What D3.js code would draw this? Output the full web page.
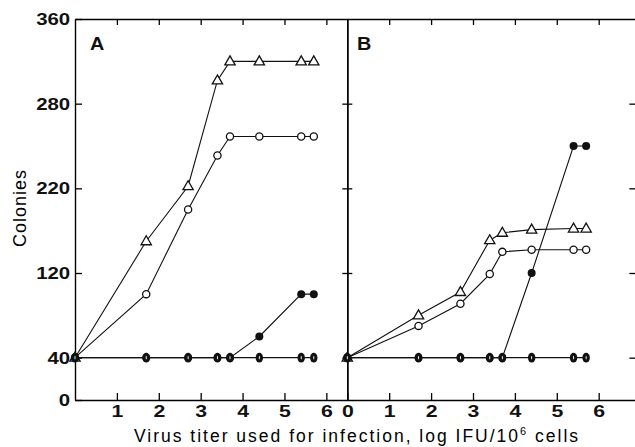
<!DOCTYPE html>
<html>
<head>
<meta charset="utf-8">
<script src="https://cdn.jsdelivr.net/npm/d3@7"></script>
<style>
  body { margin: 0; background: #fff; }
  svg { display: block; }
  .frame path.domain { stroke: #000; stroke-width: 1.4; }
  .frame line { stroke: #000; stroke-width: 1.3; }
  .frame text { font-family: "Liberation Sans", Arial, sans-serif; font-weight: bold; font-size: 17px; fill: #111; }
  .panel { font-family: "Liberation Sans", Arial, sans-serif; font-weight: bold; font-size: 18px; fill: #111; }
</style>
</head>
<body>
<svg id="chart" width="635" height="447"></svg>
<script>
// log IFU/10^6 cells used for each infection
var doses = [0, 1.7, 2.7, 3.4, 3.7, 4.4, 5.4, 5.7];

// panel A
var aTriangle = [40, 150, 202, 302, 320, 320, 320, 320];
var aOpen     = [40, 100, 180, 231, 249, 249, 249, 249];
var aFilled   = [40, 40, 40, 40, 40, 60, 100, 100];
var aBase     = [40, 40, 40, 40, 40, 40, 40, 40];

// panel B
var bTriangle = [40, 80, 102, 151, 158, 161, 162, 162];
var bOpen     = [40, 70, 91, 119, 140, 142, 142, 142];
var bFilled   = [40, 40, 40, 40, 40, 120, 240, 240];
var bBase     = [40, 40, 40, 40, 40, 40, 40, 40];

var yTickValues = [0, 40, 120, 200, 280, 360];
var yTickLabels = ["0", "40", "120", "220", "280", "360"];
var xTicksA = [1, 2, 3, 4, 5, 6];
var xTicksB = [0, 1, 2, 3, 4, 5, 6];

var svg = d3.select("#chart");

var plotTop = 19, plotBottom = 400;
var y = d3.scaleLinear().domain([0, 360]).range([plotBottom, plotTop]);
var xA = d3.scaleLinear().domain([0, 6.5]).range([75, 347.3]);
var xB = d3.scaleLinear().domain([0, 6.9]).range([347.3, 636.4]);

// the printed digits are wide, stretch them a bit
function widen(g, sx) {
    g.selectAll("text").attr("transform", "scale(" + sx + ",1)");
}

function frame(x, ticks) {
    svg.append("g").attr("class", "frame")
        .attr("transform", "translate(0," + plotBottom + ")")
        .call(d3.axisBottom(x).tickValues(ticks).tickSizeInner(-7).tickSizeOuter(0).tickPadding(5)
            .tickFormat(d3.format("d")))
        .call(widen, 1.25);
    svg.append("g").attr("class", "frame")
        .attr("transform", "translate(0," + plotTop + ")")
        .call(d3.axisTop(x).tickValues(ticks.filter(function(d) { return d > 0; }))
            .tickSizeInner(-6).tickSizeOuter(0).tickFormat(""));
}
frame(xA, xTicksA);
frame(xB, xTicksB);

// left axis of A carries the labels
svg.append("g").attr("class", "frame")
    .attr("transform", "translate(" + xA(0) + ",0)")
    .call(d3.axisLeft(y).tickValues(yTickValues).tickSizeInner(-7).tickSizeOuter(0).tickPadding(4)
        .tickFormat(function(d, i) { return yTickLabels[i]; }))
    .call(widen, 1.2);

// shared axis between A and B, ticks across
var inner = yTickValues.filter(function(d) { return d > 0 && d < 360; });
svg.append("g").attr("class", "frame")
    .attr("transform", "translate(" + xB(0) + ",0)")
    .call(d3.axisLeft(y).tickValues(inner).tickSizeInner(5).tickSizeOuter(0).tickFormat(""));
svg.append("g").attr("class", "frame")
    .attr("transform", "translate(" + xB(0) + ",0)")
    .call(d3.axisRight(y).tickValues(inner).tickSizeInner(5).tickSizeOuter(0).tickFormat(""));

// right edge of B (mostly cut off)
svg.append("g").attr("class", "frame")
    .attr("transform", "translate(" + xB.range()[1] + ",0)")
    .call(d3.axisLeft(y).tickValues(inner).tickSizeInner(7).tickSizeOuter(0).tickFormat(""));

function series(x, vals, kind) {
    var pts = doses.map(function(d, i) { return [x(d), y(vals[i])]; });
    svg.append("path")
        .attr("d", d3.line()(pts))
        .attr("fill", "none")
        .attr("stroke", "#111")
        .attr("stroke-width", 1.1);
    var g = svg.append("g");
    if (kind == "triangle") {
        g.selectAll("path").data(pts).enter().append("path")
            .attr("transform", function(p) { return "translate(" + p[0] + "," + (p[1] + 0.5) + ")"; })
            .attr("d", d3.symbol().type(d3.symbolTriangle).size(46))
            .attr("fill", "#fff").attr("stroke", "#111").attr("stroke-width", 1.3);
    } else if (kind == "open") {
        g.selectAll("circle").data(pts).enter().append("circle")
            .attr("cx", function(p) { return p[0]; }).attr("cy", function(p) { return p[1]; })
            .attr("r", 3.6)
            .attr("fill", "#fff").attr("stroke", "#111").attr("stroke-width", 1.3);
    } else if (kind == "filled") {
        g.selectAll("circle").data(pts).enter().append("circle")
            .attr("cx", function(p) { return p[0]; }).attr("cy", function(p) { return p[1]; })
            .attr("r", 4)
            .attr("fill", "#111");
    } else {
        g.selectAll("ellipse.o").data(pts).enter().append("ellipse")
            .attr("cx", function(p) { return p[0]; }).attr("cy", function(p) { return p[1]; })
            .attr("rx", 3.7).attr("ry", 4.9)
            .attr("fill", "#111");
        g.selectAll("ellipse.i").data(pts).enter().append("ellipse")
            .attr("cx", function(p) { return p[0]; }).attr("cy", function(p) { return p[1]; })
            .attr("rx", 0.5).attr("ry", 1.8)
            .attr("fill", "#fff");
    }
}

series(xA, aTriangle, "triangle");
series(xA, aOpen, "open");
series(xA, aFilled, "filled");
series(xA, aBase, "base");

series(xB, bTriangle, "triangle");
series(xB, bOpen, "open");
series(xB, bFilled, "filled");
series(xB, bBase, "base");

// panel letters
svg.append("text").attr("class", "panel")
    .attr("transform", "translate(90,50) scale(1.1,1)").text("A");
svg.append("text").attr("class", "panel")
    .attr("transform", "translate(357,50) scale(1.1,1)").text("B");

// axis titles
svg.append("text")
    .attr("transform", "translate(26,208) rotate(-90)")
    .attr("text-anchor", "middle")
    .style("font-family", "Liberation Sans, Arial, sans-serif").style("font-size", "18px")
    .style("letter-spacing", "1px")
    .text("Colonies");

var xt = svg.append("text")
    .attr("x", 357).attr("y", 442)
    .attr("text-anchor", "middle")
    .style("font-family", "Liberation Sans, Arial, sans-serif").style("font-size", "17.5px")
    .style("letter-spacing", "2px");
xt.append("tspan").text("Virus titer used for infection, log IFU/10");
xt.append("tspan").attr("dy", -7).style("font-size", "11px").text("6");
xt.append("tspan").attr("dy", 7).text(" cells");
</script>
</body>
</html>
